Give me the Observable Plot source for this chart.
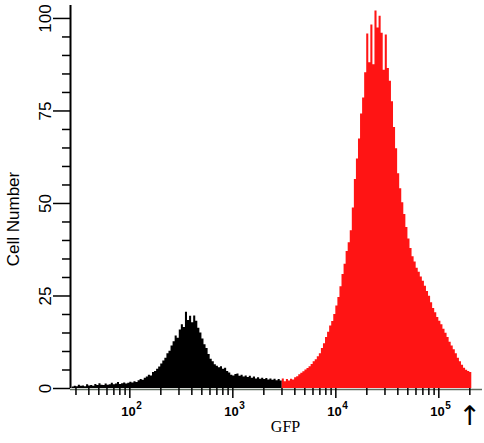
<!DOCTYPE html>
<html>
<head>
<meta charset="utf-8">
<script src="https://cdn.jsdelivr.net/npm/d3@7"></script>
<script src="https://cdn.jsdelivr.net/npm/@observablehq/plot@0.6"></script>
<style>
  html, body { margin: 0; padding: 0; background: #fff; }
</style>
</head>
<body>
<div id="chart"></div>
<script>
// Histogram bins on a log10(GFP) axis
const binWidth = 0.02;          // width of each bin in log10 units
const blackStart = 1.44;        // log10 of first black bin edge
const blackCounts = [
  0.4, 0.6, 0.5, 0.9, 0.6,
  0.7, 0.5, 1.0, 0.7, 0.8,
  0.6, 1.1, 0.8, 1.3, 0.9,
  0.8, 1.2, 0.9, 1.0, 1.4,
  1.0, 1.2, 1.6, 1.1, 1.3,
  1.5, 1.2, 1.4, 1.7, 1.5,
  1.8, 1.6, 2.1, 2.4, 2.2,
  2.8, 3.1, 3.6, 3.4, 4.3,
  4.6, 5.2, 5.8, 6.6, 7.4,
  8.2, 9.4, 10.1, 11.5, 12.6,
  14.2, 13.6, 15.8, 17.2, 16.5,
  20.6, 18.4, 19.5, 17.8, 19.6,
  18.2, 16.3, 15.0, 13.4, 11.8,
  10.8, 9.2, 7.9, 7.2, 6.4,
  6.0, 5.6, 5.9, 5.2, 5.5,
  4.6, 4.2, 3.6, 3.4, 3.8,
  3.9, 3.3, 3.6, 3.1, 3.4,
  3.0, 3.3, 2.8, 3.1, 2.6,
  2.9, 2.5, 2.8, 2.4, 2.7,
  2.3, 2.6, 2.2, 2.5, 2.1,
  2.4, 2.0
];
const redStart = 3.48;          // log10 of first red bin edge
const redCounts = [
  2.6, 1.8, 2.4, 2.0, 2.5, 2.3, 2.9, 3.2, 3.7, 4.1,
  4.5, 5.0, 5.4, 5.9, 6.5, 7.2, 7.8, 8.6, 9.4, 10.8,
  12.1, 13.8, 15.2, 16.9, 18.1, 20.0, 22.3, 24.6, 27.5, 30.8,
  33.6, 37.0, 39.4, 42.6, 48.8, 56.5, 62.0, 67.4, 74.2, 78.5,
  85.3, 95.8, 88.0, 98.2, 87.5, 102.0, 97.4, 100.6, 96.0, 86.0,
  95.5, 86.5, 83.0, 77.5, 70.5, 64.8, 58.0, 54.0, 50.2, 47.0,
  43.5, 40.4, 37.8, 35.6, 34.2, 32.5, 31.4, 30.1, 29.0, 27.6,
  26.2, 24.9, 23.2, 21.6, 20.5, 19.2, 18.2, 17.2, 16.0, 14.9,
  13.8, 12.5, 11.5, 10.5, 9.4, 8.2, 7.2, 6.3, 5.5, 4.9,
  4.6, 4.3
];

// Axes
const xDomain = [10 ** 1.424, 10 ** 5.424];
const yDomain = [0, 103.5];
const xDecades = [100, 1000, 10000, 100000];
const xTickBase = "10";
const xExponents = ["2", "3", "4", "5"];
const xMinorTicks = [
  30, 40, 50, 60, 70, 80, 90,
  200, 300, 400, 500, 600, 700, 800, 900,
  2000, 3000, 4000, 5000, 6000, 7000, 8000, 9000,
  20000, 30000, 40000, 50000, 60000, 70000, 80000, 90000,
  200000
];
const arrowAt = [200000];
const yTicks = [0, 25, 50, 75, 100];
const yMinorTicks = [5, 10, 15, 20, 30, 35, 40, 45, 55, 60, 65, 70, 80, 85, 90, 95];
const yLabel = "Cell Number";
const xLabel = "GFP";

// step outline: one point per bin edge, last edge repeats last count
const toSteps = (start, counts) => {
  const pts = counts.map((c, i) => ({ x: 10 ** (start + i * binWidth), count: c }));
  pts.push({ x: 10 ** (start + counts.length * binWidth), count: counts[counts.length - 1] });
  return pts;
};
const blackSteps = toSteps(blackStart, blackCounts);
const redSteps = toSteps(redStart, redCounts);

const chart = Plot.plot({
  width: 484,
  height: 443,
  marginTop: 5,
  marginBottom: 55,
  marginLeft: 70,
  marginRight: 2,
  style: { fontFamily: "Liberation Sans, Arial, sans-serif", background: "#fff", color: "#000" },
  x: { type: "log", domain: xDomain, label: null },
  y: { domain: yDomain, label: null },
  marks: [
    Plot.areaY(blackSteps, { x: "x", y: "count", curve: "step-after", fill: "#000" }),
    Plot.areaY(redSteps, { x: "x", y: "count", curve: "step-after", fill: "#ff1414" }),
    Plot.ruleY([0], { stroke: "#5f6b5f", strokeWidth: 1.5, dy: 1 }),
    Plot.axisX({ ticks: xMinorTicks, tickSize: 7, tickFormat: () => "", strokeWidth: 1.5, anchor: "bottom", label: null }),
    Plot.axisX({ ticks: xDecades, tickSize: 10, tickFormat: () => "", strokeWidth: 1.5, anchor: "bottom", label: null }),
    Plot.text(xDecades, { x: d => d, text: () => xTickBase, frameAnchor: "bottom", dy: 27, dx: 6, textAnchor: "end", lineAnchor: "bottom", fontSize: 13, fontWeight: "bold" }),
    Plot.text(xDecades, { x: d => d, text: (d, i) => xExponents[i], frameAnchor: "bottom", dy: 20, dx: 6.5, textAnchor: "start", lineAnchor: "bottom", fontSize: 10, fontWeight: "bold" }),
    Plot.text(arrowAt, { x: d => d, text: () => "↑", frameAnchor: "bottom", dy: 36, lineAnchor: "bottom", fontSize: 27, fontFamily: "DejaVu Sans" }),
    Plot.axisY({ ticks: yMinorTicks, tickSize: 8, tickFormat: () => "", strokeWidth: 1.5, anchor: "left", label: null }),
    Plot.axisY({ ticks: yTicks, tickSize: 17, tickFormat: () => "", strokeWidth: 1.5, anchor: "left", label: null }),
    Plot.ruleX([xDomain[0]], { stroke: "#000", strokeWidth: 2 }),
    Plot.text(yTicks, { y: d => d, text: d => String(d), frameAnchor: "left", dx: -25, rotate: -90, textAnchor: "middle", lineAnchor: "middle", fontSize: 17 }),
    Plot.text([yLabel], { text: d => d, frameAnchor: "left", dx: -57, dy: 22, rotate: -90, textAnchor: "middle", lineAnchor: "middle", fontSize: 17 }),
    Plot.text([xLabel], { text: d => d, frameAnchor: "bottom", dx: 9, dy: 43, lineAnchor: "bottom", fontSize: 16, fontFamily: "Liberation Serif, Times New Roman, serif" })
  ]
});
document.getElementById("chart").appendChild(chart);
</script>
</body>
</html>
